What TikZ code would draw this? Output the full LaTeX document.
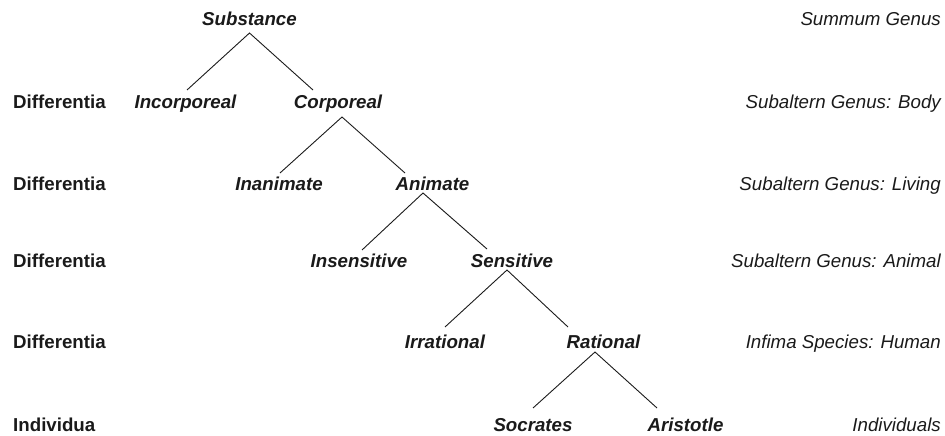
\documentclass[tikz,border=0pt]{standalone}
\usepackage{fontspec}
\setmainfont{Liberation Sans}
\usetikzlibrary{calc}
\definecolor{ink}{HTML}{1A1A1A}
\begin{document}
\begin{tikzpicture}[x=1pt,y=-1pt,
  every node/.style={inner sep=0pt,text=ink,font=\fontsize{18.7}{22}\selectfont},
  term/.style={anchor=base,font=\fontsize{18.7}{22}\selectfont\bfseries\itshape},
  levelname/.style={anchor=base west,font=\fontsize{18.7}{22}\selectfont\bfseries},
  genus/.style={anchor=base east,font=\fontsize{18.7}{22}\selectfont\itshape},
  branch/.style={draw=ink,line width=0.9pt}]
\useasboundingbox (0,0) rectangle (945,436);

% level names on the left
\node[levelname] (d1) at (13,108.5) {Differentia};
\node[levelname] (d2) at (13,190) {Differentia};
\node[levelname] (d3) at (13,267) {Differentia};
\node[levelname] (d4) at (13,348) {Differentia};
\node[levelname] (d5) at (13,431) {Individua};

% genus names on the right
\node[genus] (g0) at (941,26) {Summum Genus};
\node[genus] (g1) at (941,108.5) {Subaltern Genus: Body};
\node[genus] (g2) at (941,190) {Subaltern Genus: Living};
\node[genus] (g3) at (941,267) {Subaltern Genus: Animal};
\node[genus] (g4) at (941,348) {Infima Species: Human};
\node[genus] (g5) at (941,431) {Individuals};

% the tree of Porphyry
\node[term] (sub) at (249.5,26) {Substance};
\node[term] (inc) at (185.5,108.5) {Incorporeal};
\node[term] (cor) at (338,108.5) {Corporeal};
\node[term] (ina) at (279,190) {Inanimate};
\node[term] (ani) at (432.5,190) {Animate};
\node[term] (ins) at (359,267) {Insensitive};
\node[term] (sen) at (512,267) {Sensitive};
\node[term] (irr) at (445,348) {Irrational};
\node[term] (rat) at (603.5,348) {Rational};
\node[term] (soc) at (533,431) {Socrates};
\node[term] (ari) at (685.5,431) {Aristotle};

% branches
\draw[branch] ($(inc.base)+(1.5,-18.5)$) -- ($(sub.base)+(0,7)$) -- ($(cor.base)+(-25,-18.5)$);
\draw[branch] ($(ina.base)+(1,-17)$) -- ($(cor.base)+(4,8.5)$) -- ($(ani.base)+(-27.5,-17)$);
\draw[branch] ($(ins.base)+(3,-17)$) -- ($(ani.base)+(-9.5,3)$) -- ($(sen.base)+(-25,-18)$);
\draw[branch] ($(irr.base)+(0,-21)$) -- ($(sen.base)+(-5,3)$) -- ($(rat.base)+(-35.5,-21)$);
\draw[branch] ($(soc.base)+(0,-23)$) -- ($(rat.base)+(-8.5,4)$) -- ($(ari.base)+(-28.5,-23)$);
\end{tikzpicture}
\end{document}
